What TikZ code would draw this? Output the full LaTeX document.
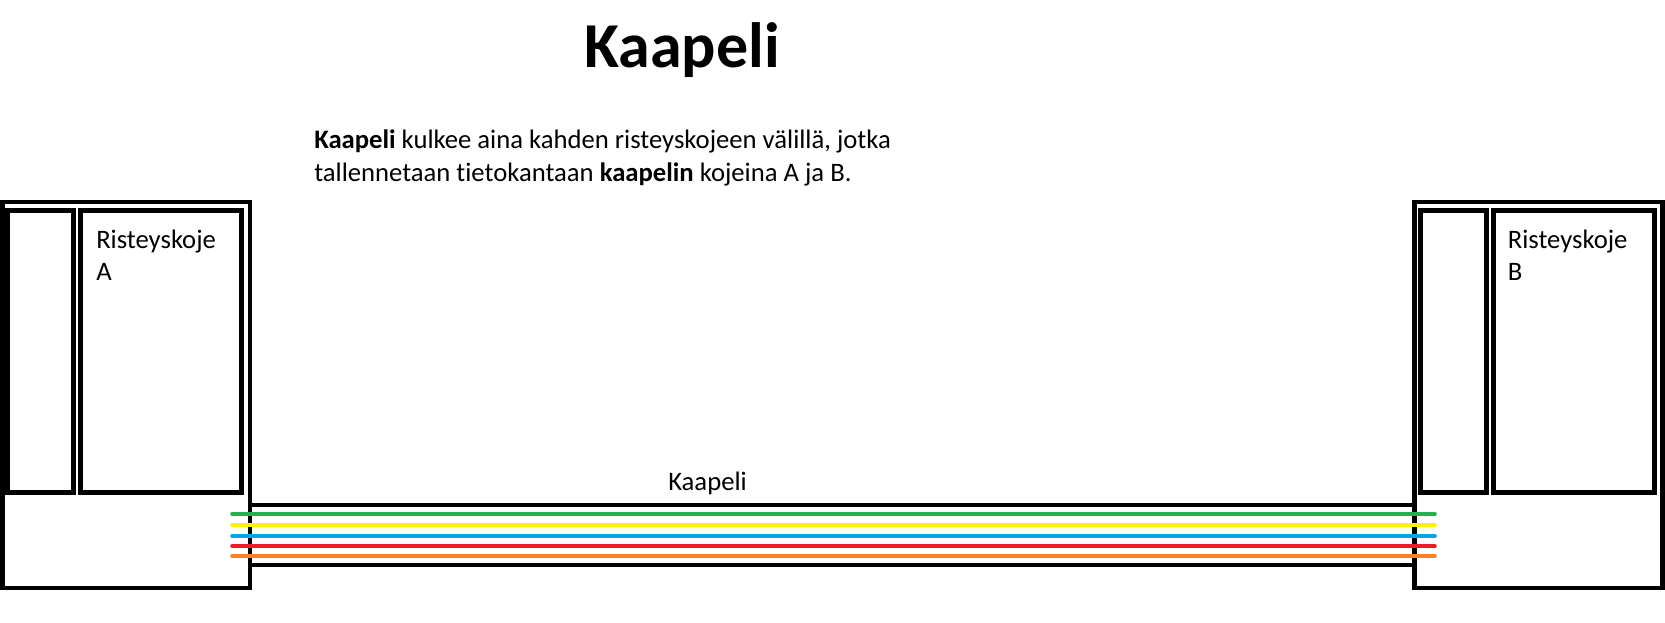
\documentclass[tikz,border=0pt]{standalone}
\usepackage{fontspec}
\setmainfont{Carlito}[Ligatures=NoCommon]
\usepackage{xcolor}
\usetikzlibrary{positioning}

\definecolor{wgreen}{HTML}{22B14C}
\definecolor{wyellow}{HTML}{FFF200}
\definecolor{wblue}{HTML}{00A2E8}
\definecolor{wred}{HTML}{ED1C24}
\definecolor{worange}{HTML}{FF7F27}

\begin{document}
\begin{tikzpicture}[
  x=0.75pt, y=-0.75pt,
  frame/.style={draw, line width=3.5pt, inner sep=0pt, outer sep=0pt},
  outerbox/.style={frame, minimum width=185.8pt, minimum height=289.5pt},
  slotbox/.style={frame, minimum width=49.5pt, minimum height=211.5pt},
  mainbox/.style={frame, minimum width=120.75pt, minimum height=211.5pt},
  txt/.style={inner sep=0pt, anchor=base west, align=left,
              font=\fontsize{20}{24.4}\selectfont},
  wire/.style={line width=3.5pt, line cap=round},
]
\useasboundingbox (0,0) rectangle (1665,622);

% otsikko ja selite (base = viimeisen rivin perusviiva)
\node[txt, font=\fontsize{48}{58}\selectfont\bfseries] (title) at (584,67.5) {Kaapeli};
\node[txt] (desc) at (314,181.5)
  {\textbf{Kaapeli} kulkee aina kahden risteyskojeen välillä, jotka\\
   tallennetaan tietokantaan \textbf{kaapelin} kojeina A ja B.};

% risteyskojeet
\node[outerbox] (kojeA) at (126.15,395) {};
\node[slotbox]  (slotA) at (40.8,351.5) {};
\node[mainbox]  (mainA) at (161.2,351.5) {};
\node[txt] (labA) at (96,280.8) {Risteyskoje\\A};

\node[outerbox] (kojeB) at (1538.5,395) {};
\node[slotbox]  (slotB) at (1453.5,351.5) {};
\node[mainbox]  (mainB) at (1573.8,351.5) {};
\node[txt] (labB) at (1507.5,280.8) {Risteyskoje\\B};

% kaapeli
\node[frame, minimum width=873.4pt, minimum height=45pt] (cable) at (832.25,535) {};
\node[txt] (labC) at (668,490.5) {Kaapeli};

\foreach \col/\y [count=\i] in {wgreen/514, wyellow/525, wblue/536, wred/546, worange/556} {
  \coordinate (wa\i) at (232.5,\y);
  \coordinate (wb\i) at (1434.5,\y);
  \draw[wire, \col] (wa\i) -- (wb\i);
}
\end{tikzpicture}
\end{document}
